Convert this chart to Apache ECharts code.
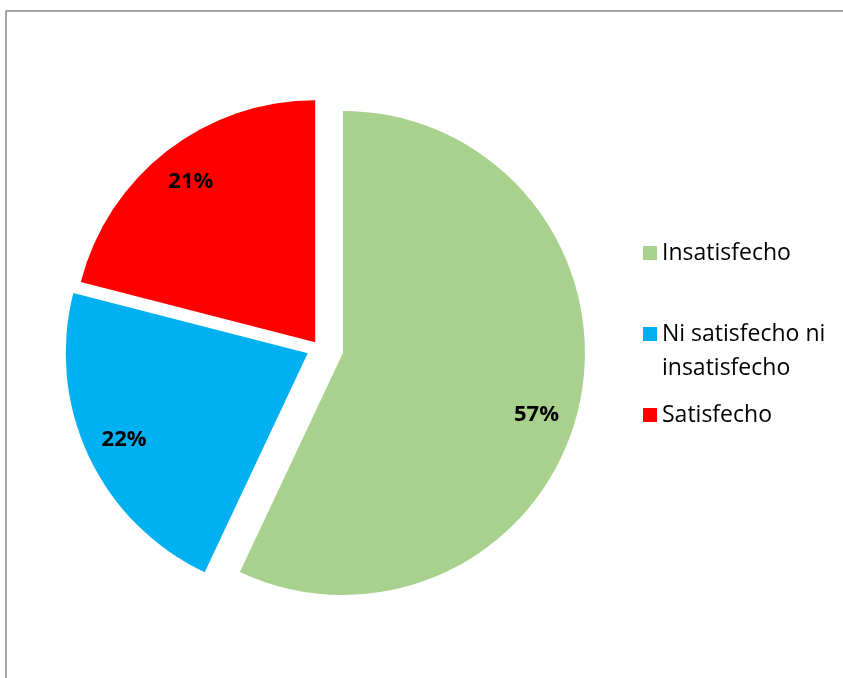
<!DOCTYPE html>
<html>
<head>
<meta charset="utf-8">
<script src="https://cdn.jsdelivr.net/npm/echarts@6/dist/echarts.min.js"></script>
<style>
  html, body { margin: 0; padding: 0; background: #ffffff; }
  #chart { width: 843px; height: 678px; }
</style>
</head>
<body>
<div id="chart"></div>
<script>
// Survey answers (percent of respondents)
const categories = ['Insatisfecho', 'Ni satisfecho ni insatisfecho', 'Satisfecho'];
const values = [57, 22, 21];

// Styling
const colors = ['#A9D18E', '#00B0F0', '#FF0000'];
const explodeOffsets = [24, 13, 7];      // how far each slice is pulled out, px
const labelTurn = [4.5, 0, 0];           // extra clockwise turn of each value label, degrees
const pieCenter = [319.5, 347.7];
const pieRadius = 242;
const labelRingInner = 158;              // labels sit in the middle of this ring
const fontFamily = '"Open Sans", "Noto Sans", sans-serif';

// Each slice gets its own series so it can be pulled out by its own distance;
// the other slices of that series stay invisible but keep the angles right.
function sliceData(own, forLabel) {
  return categories.map((name, i) => ({
    name: name,
    value: values[i],
    selected: i === own,
    itemStyle: { color: (i === own && !forLabel) ? colors[i] : 'rgba(0,0,0,0)' },
    label: { show: forLabel && i === own }
  }));
}

const base = {
  type: 'pie',
  center: pieCenter,
  startAngle: 90,
  clockwise: true,
  selectedMode: 'multiple',
  avoidLabelOverlap: false,
  silent: true,
  emphasis: { disabled: true },
  labelLine: { show: false },
  itemStyle: { borderWidth: 0 }
};

const series = [];
categories.forEach((name, i) => {
  series.push(Object.assign({}, base, {
    name: 'slice-' + i,
    radius: [0, pieRadius],
    selectedOffset: explodeOffsets[i],
    label: { show: false },
    data: sliceData(i, false),
    z: 2
  }));
});
categories.forEach((name, i) => {
  series.push(Object.assign({}, base, {
    name: 'label-' + i,
    radius: [labelRingInner, pieRadius],
    startAngle: 90 - labelTurn[i],
    selectedOffset: explodeOffsets[i],
    label: {
      position: 'inside',
      formatter: '{c}%',
      fontFamily: fontFamily,
      fontWeight: 'bold',
      fontSize: 22,
      color: '#000000'
    },
    data: sliceData(i, true),
    z: 3
  }));
});

const chart = echarts.init(document.getElementById('chart'), null, { renderer: 'canvas' });
chart.setOption({
  animation: false,
  backgroundColor: '#ffffff',
  graphic: [{
    type: 'rect',
    silent: true,
    shape: { x: 6, y: 11, width: 1000, height: 1000 },
    style: { fill: 'none', stroke: '#8a8a8a', lineWidth: 1.5 }
  }],
  legend: {
    orient: 'vertical',
    left: 643,
    top: 236,
    padding: 0,
    itemGap: 13,
    itemWidth: 14,
    itemHeight: 14,
    icon: 'rect',
    selectedMode: false,
    textStyle: {
      fontFamily: fontFamily,
      fontSize: 23,
      lineHeight: 34,
      color: '#000000',
      width: 175,
      overflow: 'break'
    },
    // a name that wraps gets an empty first line so the icon stays level
    // with its first written line
    formatter: function (name) {
      return name.length > 20 ? '\n' + name : name;
    },
    data: categories.map((name, i) => ({
      name: name,
      itemStyle: { color: colors[i] }
    }))
  },
  series: series
});
</script>
</body>
</html>
